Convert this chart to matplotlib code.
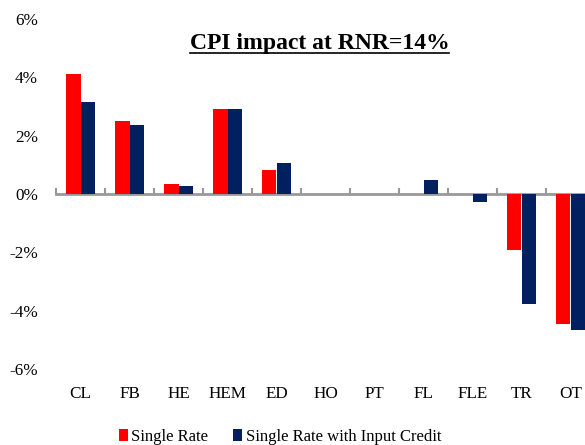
import matplotlib
matplotlib.use('Agg')
import matplotlib.pyplot as plt
from matplotlib.lines import Line2D
import numpy as np

plt.rcParams['font.family'] = ['Liberation Serif', 'DejaVu Serif']

categories = ['CL', 'FB', 'HE', 'HEM', 'ED', 'HO', 'PT', 'FL', 'FLE', 'TR', 'OT']
single_rate = [4.11, 2.50, 0.34, 2.91, 0.82, 0.0, 0.0, 0.0, 0.0, -1.92, -4.47]
single_rate_credit = [3.14, 2.37, 0.27, 2.91, 1.05, 0.0, 0.0, 0.48, -0.26, -3.76, -4.66]
y_ticks = [-6, -4, -2, 0, 2, 4, 6]

W, H = 585, 445
fig = plt.figure(figsize=(W / 100, H / 100), dpi=100)
# axes runs past the right edge, so the OT bars get cut like in the original
ax = fig.add_axes([56 / W, (H - 369) / H, 539 / W, 350 / H])

x = np.arange(len(categories))
bw = 0.286
ax.bar(x - bw / 2, single_rate, bw, color='#FF0000', label='Single Rate', zorder=2)
ax.bar(x + bw / 2, single_rate_credit, bw, color='#002060', label='Single Rate with Input Credit', zorder=2)

ax.set_xlim(-0.5, len(categories) - 0.5)
ax.set_ylim(-6, 6)
ax.set_yticks(y_ticks)
ax.set_yticklabels([f'{v}%' for v in y_ticks], fontsize=12.3)
ax.set_xticks(x)
ax.set_xticklabels(categories, fontsize=12.3)
ax.tick_params(axis='y', length=0, pad=13)
ax.tick_params(axis='x', length=0, pad=12)
for s in ax.spines.values():
    s.set_visible(False)

# zero line with the boundary ticks
zero = ax.secondary_xaxis(0.5)
zero.set_xticks(np.arange(len(categories) + 1) - 0.5)
zero.set_xticklabels([])
zero.tick_params(axis='x', direction='out', length=4, width=1.5, color='#999999')
for s in zero.spines.values():
    s.set_color('#999999')
    s.set_linewidth(2)

title = fig.text(319.5 / W, 1 - 43 / H, 'CPI impact at RNR=14%', ha='center', va='center',
                 fontsize=17, fontweight='bold')

fig.legend(loc='center', bbox_to_anchor=(280 / W, 1 - 437 / H), ncol=2, frameon=False,
           fontsize=12, handlelength=0.55, handleheight=0.7, handletextpad=0.2,
           columnspacing=1.5, borderpad=0)

# underline the title
fig.canvas.draw()
bb = title.get_window_extent().transformed(fig.transFigure.inverted())
fig.add_artist(Line2D([bb.x0, bb.x1], [bb.y0 + 0.002, bb.y0 + 0.002], color='black', lw=1.2,
                      transform=fig.transFigure))

fig.savefig('out.png', dpi=100)
